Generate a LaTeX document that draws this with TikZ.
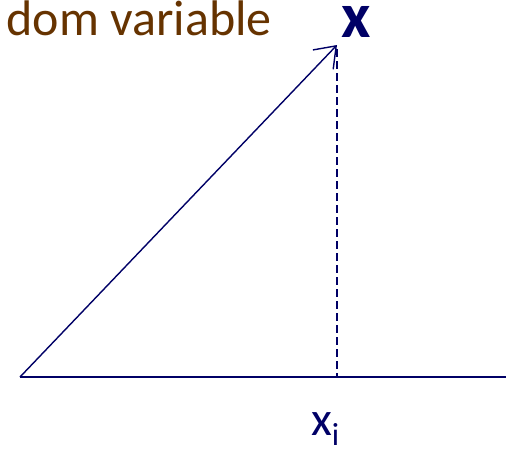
\documentclass[tikz,border=0pt]{standalone}
\usepackage{fontspec}
\setmainfont{Carlito}
\usetikzlibrary{arrows.meta}
\definecolor{navy}{HTML}{000066}
\definecolor{brownish}{HTML}{663300}
\begin{document}
\begin{tikzpicture}[x=1pt,y=-1pt,
  axis/.style={draw=navy, line width=1.6pt},
  vec/.style={draw=navy, line width=1.4pt, -{Straight Barb[length=19pt,width=28pt,line width=1.4pt]}},
  proj/.style={draw=navy, line width=1.4pt, dash pattern=on 8pt off 4pt}]
\useasboundingbox (0,0) rectangle (506,448);
\coordinate (o) at (20,377);
\coordinate (e) at (506,377);
\coordinate (p) at (337,45);
\coordinate (f) at (337,377);
\draw[axis] (o) -- (e);
\draw[vec] (o) -- (p);
\draw[proj] (p) ++(0,4) coordinate (ps) (ps) -- (f);
\node[anchor=base east, inner sep=0, text=brownish, font=\fontsize{50}{54}\selectfont] (title) at (272,35) {dom variable};
\node[anchor=base west, inner sep=0, text=navy, font=\bfseries\fontsize{64}{70}\selectfont] (X) at (341,37) {x};
\node[anchor=base west, inner sep=0, text=navy, font=\fontsize{48}{50}\selectfont] (xi) at (311,435) {x\raisebox{-10pt}{\fontsize{32}{34}\selectfont i}};
\end{tikzpicture}
\end{document}
